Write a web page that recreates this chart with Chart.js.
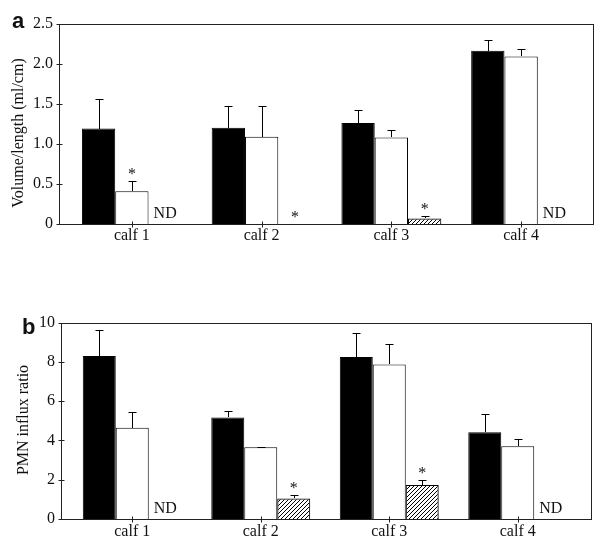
<!DOCTYPE html>
<html><head><meta charset="utf-8">
<script src="https://cdn.jsdelivr.net/npm/chart.js@4.4.1/dist/chart.umd.min.js"></script>
<style>
html,body{margin:0;padding:0;background:#fff;}
#wrap{position:relative;width:600px;height:550px;overflow:hidden;background:#fff;}
.pane{position:absolute;left:0;width:600px;height:250px;}
.letter{position:absolute;font:bold 22px "Liberation Sans",Arial,sans-serif;color:#111;line-height:1;}
.ytitle{position:absolute;font:16px "Liberation Serif","Times New Roman",serif;color:#111;white-space:nowrap;transform:translate(-50%,-50%) rotate(-90deg);}
</style></head>
<body><div id="wrap">
<div class="pane" style="top:0"><canvas id="ca" width="600" height="250"></canvas></div>
<div class="pane" style="top:300px"><canvas id="cb" width="600" height="250"></canvas></div>
<div class="letter" style="left:12px;top:10px">a</div>
<div class="letter" style="left:22px;top:316px">b</div>
<div class="ytitle" style="left:18px;top:133px">Volume/length (ml/cm)</div>
<div class="ytitle" style="left:23px;top:420px">PMN influx ratio</div>
</div>
<script>
// ---------- data ----------
const categories = ['calf 1', 'calf 2', 'calf 3', 'calf 4'];

// panel a: Volume/length (ml/cm)
const volBlack = [1.19, 1.20, 1.26, 2.16];
const volBlackErr = [0.37, 0.27, 0.16, 0.13];
const volWhite = [0.41, 1.09, 1.08, 2.09];
const volWhiteErr = [0.13, 0.38, 0.09, 0.09];
const volHatched = [null, 0, 0.07, null];
const volHatchedErr = [null, null, 0.025, null];
const volBlackNotes = ['', '', '', ''];
const volWhiteNotes = ['*', '', '', ''];
const volHatchedNotes = ['ND', '*', '*', 'ND'];
const volTickLabels = ['0', '0.5', '1.0', '1.5', '2.0', '2.5'];

// panel b: PMN influx ratio
const pmnBlack = [8.30, 5.17, 8.25, 4.42];
const pmnBlackErr = [1.30, 0.35, 1.23, 0.93];
const pmnWhite = [4.65, 3.65, 7.87, 3.70];
const pmnWhiteErr = [0.82, 0.03, 1.03, 0.38];
const pmnHatched = [null, 1.05, 1.73, null];
const pmnHatchedErr = [null, 0.17, 0.27, null];
const pmnBlackNotes = ['', '', '', ''];
const pmnWhiteNotes = ['', '', '', ''];
const pmnHatchedNotes = ['ND', '*', '*', 'ND'];
const pmnTickLabels = ['0', '2', '4', '6', '8', '10'];

// ---------- helpers ----------
function makeHatch() {
  const c = document.createElement('canvas');
  c.width = 4; c.height = 4;
  const x = c.getContext('2d');
  x.strokeStyle = '#000'; x.lineWidth = 1;
  x.beginPath();
  x.moveTo(0, 4); x.lineTo(4, 0);
  x.moveTo(-1, 1); x.lineTo(1, -1);
  x.moveTo(3, 5); x.lineTo(5, 3);
  x.stroke();
  return x.createPattern(c, 'repeat');
}
const hatch = makeHatch();
const FONT = '"Liberation Serif","Times New Roman",serif';

const framePlugin = {
  id: 'frame',
  afterDraw(chart, args, opts) {
    const ctx = chart.ctx, a = chart.chartArea, xs = chart.scales.x, ys = chart.scales.y;
    ctx.save();
    ctx.strokeStyle = '#222'; ctx.lineWidth = 1;
    const L = opts.left + 0.5, R = opts.right + 0.5;
    const T = Math.round(a.top) + 0.5, B = Math.round(a.bottom) + 0.5;
    ctx.strokeRect(L, T, R - L, B - T);
    ctx.beginPath();
    ys.ticks.forEach((t, i) => {
      const y = Math.round(ys.getPixelForTick(i)) + 0.5;
      ctx.moveTo(L - 3, y); ctx.lineTo(L + 3, y);
    });
    xs.ticks.forEach((t, i) => {
      const x = Math.round(xs.getPixelForTick(i)) + 0.5;
      ctx.moveTo(x, B - 3); ctx.lineTo(x, B + 3);
    });
    ctx.stroke();
    ctx.restore();
  }
};

const errPlugin = {
  id: 'err',
  afterDatasetsDraw(chart) {
    const ctx = chart.ctx, ys = chart.scales.y;
    ctx.save();
    ctx.strokeStyle = '#000'; ctx.lineWidth = 1; ctx.fillStyle = '#111';
    chart.data.datasets.forEach((ds, i) => {
      const meta = chart.getDatasetMeta(i);
      meta.data.forEach((el, j) => {
        const v = ds.data[j], e = ds.errors[j];
        const x = Math.round(el.x) + 0.5;
        let topY = null;
        if (v != null && e != null) {
          const y0 = Math.round(ys.getPixelForValue(v));
          const y1 = Math.round(ys.getPixelForValue(v + e)) + 0.5;
          ctx.beginPath();
          ctx.moveTo(x, y0); ctx.lineTo(x, y1);
          ctx.moveTo(x - 4, y1); ctx.lineTo(x + 4, y1);
          ctx.stroke();
          topY = y1;
        }
        const n = ds.notes[j];
        ctx.font = '16px ' + FONT;
        ctx.textAlign = 'center'; ctx.textBaseline = 'alphabetic';
        if (n === '*') {
          const base = topY != null ? topY : ys.getPixelForValue(v || 0);
          ctx.fillText('*', el.x, base - 10 + 7.5);
        } else if (n === 'ND') {
          ctx.fillText('ND', el.x, ys.getPixelForValue(0) - 6);
        }
      });
    });
    ctx.restore();
  }
};

function makeChart(id, cfg) {
  return new Chart(document.getElementById(id), {
    type: 'bar',
    data: {
      labels: categories,
      datasets: [
        { data: cfg.black, errors: cfg.blackErr, notes: cfg.blackNotes, backgroundColor: '#000', borderColor: '#000', borderWidth: 1 },
        { data: cfg.white, errors: cfg.whiteErr, notes: cfg.whiteNotes, backgroundColor: '#fff', borderColor: '#000', borderWidth: 1 },
        { data: cfg.hatched, errors: cfg.hatchedErr, notes: cfg.hatchedNotes, backgroundColor: hatch, borderColor: '#000', borderWidth: 1 }
      ]
    },
    options: {
      responsive: false,
      animation: false,
      devicePixelRatio: 1,
      events: [],
      categoryPercentage: 0.77,
      barPercentage: 1.0,
      layout: { padding: cfg.padding },
      plugins: { legend: { display: false }, tooltip: { enabled: false }, frame: cfg.frame },
      scales: {
        x: {
          grid: { display: false, drawTicks: false },
          border: { display: false },
          ticks: { color: '#111', font: { family: FONT, size: 16 }, padding: cfg.xPad },
          afterFit: s => { s.height = cfg.xHeight; }
        },
        y: {
          min: 0, max: cfg.max,
          grid: { display: false, drawTicks: false },
          border: { display: false },
          ticks: {
            stepSize: cfg.step, color: '#111', font: { family: FONT, size: 16 }, padding: cfg.yPad,
            callback: (v, i) => cfg.tickLabels[i]
          },
          afterFit: s => { s.width = cfg.yWidth; }
        }
      }
    },
    plugins: [errPlugin, framePlugin]
  });
}

makeChart('ca', {
  black: volBlack, blackErr: volBlackErr, blackNotes: volBlackNotes,
  white: volWhite, whiteErr: volWhiteErr, whiteNotes: volWhiteNotes,
  hatched: volHatched, hatchedErr: volHatchedErr, hatchedNotes: volHatchedNotes,
  max: 2.5, step: 0.5, tickLabels: volTickLabels,
  padding: { top: 16, right: 14, left: 0, bottom: 0 },
  yWidth: 67, xHeight: 26, yPad: 14, xPad: 2,
  frame: { left: 59, right: 593 }
});

makeChart('cb', {
  black: pmnBlack, blackErr: pmnBlackErr, blackNotes: pmnBlackNotes,
  white: pmnWhite, whiteErr: pmnWhiteErr, whiteNotes: pmnWhiteNotes,
  hatched: pmnHatched, hatchedErr: pmnHatchedErr, hatchedNotes: pmnHatchedNotes,
  max: 10, step: 2, tickLabels: pmnTickLabels,
  padding: { top: 19, right: 18, left: 0, bottom: 0 },
  yWidth: 68, xHeight: 31, yPad: 13, xPad: 3,
  frame: { left: 61, right: 591 }
});
</script>
</body></html>
